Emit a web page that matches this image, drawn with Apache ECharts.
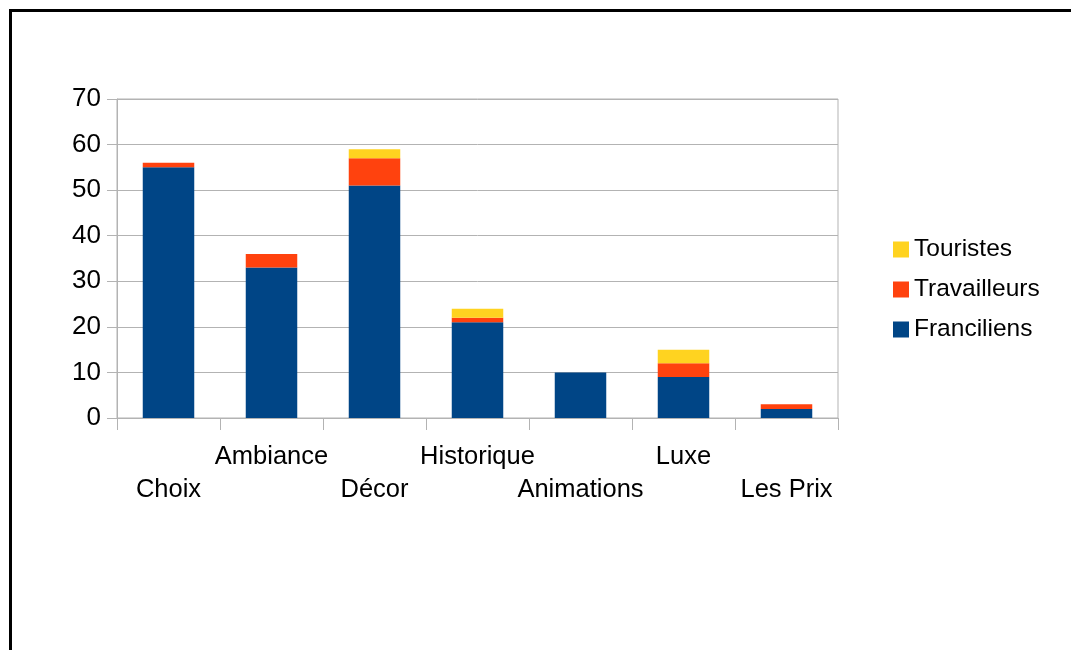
<!DOCTYPE html>
<html><head><meta charset="utf-8">
<script src="https://cdn.jsdelivr.net/npm/echarts@6/dist/echarts.min.js"></script>
<style>html,body{margin:0;padding:0;background:#fff}#c{width:1071px;height:650px}</style>
</head><body><div id="c"></div>
<script>
const categories = ['Choix','Ambiance','Décor','Historique','Animations','Luxe','Les Prix'];
const franciliens = [55,33,51,21,10,9,2];
const travailleurs = [1,3,6,1,0,3,1];
const touristes = [0,0,2,2,0,3,0];
const yTicks = [0,10,20,30,40,50,60,70];

const chart = echarts.init(document.getElementById('c'));
const font = 'Liberation Sans, Arial, sans-serif';
const mk = (name, data, color) => ({name, type:'bar', stack:'s', data, barWidth:'50%', itemStyle:{color}});
chart.setOption({
  animation:false,
  textStyle:{fontFamily:font},
  graphic:[{type:'rect', shape:{x:10.5,y:10.5,width:1100,height:700}, style:{fill:'none',stroke:'#000',lineWidth:3}, z:100}],
  grid:{left:117,right:233,top:99,bottom:232,show:true,borderColor:'#b3b3b3',borderWidth:1},
  legend:{orient:'vertical', left:888, top:232, itemWidth:16, itemHeight:16, itemGap:15,
    icon:'rect', data:['Touristes','Travailleurs','Franciliens'],
    textStyle:{fontSize:24.5,color:'#000',fontFamily:font}},
  xAxis:{type:'category', data:categories,
    axisLine:{lineStyle:{color:'#b3b3b3'}},
    axisTick:{show:true,length:12,lineStyle:{color:'#b3b3b3'}},
    axisLabel:{interval:0, fontSize:25.5, color:'#000', lineHeight:33, margin:22,
      formatter:(v,i)=> i%2===0 ? '\n'+v : v}},
  yAxis:{type:'value', min:0, max:70, interval:10,
    axisLine:{show:true,lineStyle:{color:'#b3b3b3'}},
    axisTick:{show:true,length:10,lineStyle:{color:'#b3b3b3'}},
    splitLine:{lineStyle:{color:'#b3b3b3'}},
    axisLabel:{fontSize:26,color:'#000',margin:16, formatter:v=> yTicks.includes(v)? String(v):''}},
  series:[
    mk('Franciliens', franciliens, '#004586'),
    mk('Travailleurs', travailleurs, '#ff420e'),
    mk('Touristes', touristes, '#ffd320')
  ]
});
</script></body></html>
